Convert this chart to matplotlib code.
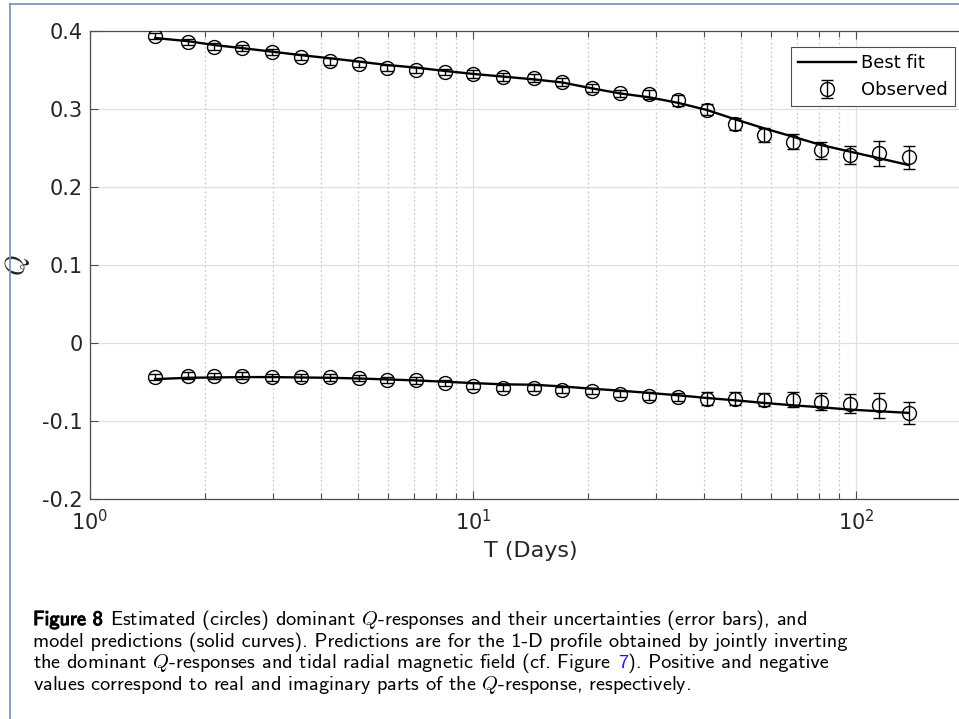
import matplotlib
matplotlib.use("Agg")
import matplotlib.pyplot as plt
import matplotlib.ticker as mticker
from matplotlib.lines import Line2D
import matplotlib.patheffects as pe

# Periods (days) and Q-responses
T_days = [1.48, 1.80, 2.11, 2.50, 2.99, 3.56, 4.24, 5.05, 5.97, 7.11, 8.47,
          10.0, 12.0, 14.4, 17.1, 20.4, 24.2, 28.8, 34.2, 40.8, 48.3, 57.5,
          68.4, 81.0, 96.5, 115.0, 137.0]

# real part (positive)
q_real_obs = [0.394, 0.386, 0.380, 0.378, 0.373, 0.367, 0.361, 0.358, 0.353,
              0.350, 0.347, 0.345, 0.341, 0.340, 0.335, 0.327, 0.320, 0.319,
              0.311, 0.299, 0.281, 0.267, 0.258, 0.247, 0.241, 0.243, 0.238]
q_real_err = [0.004, 0.004, 0.004, 0.004, 0.004, 0.004, 0.004, 0.004, 0.004,
              0.004, 0.004, 0.005, 0.005, 0.005, 0.005, 0.005, 0.005, 0.006,
              0.007, 0.007, 0.008, 0.009, 0.0095, 0.011, 0.012, 0.016, 0.015]
q_real_fit = [0.391, 0.387, 0.382, 0.378, 0.3735, 0.369, 0.365, 0.3607, 0.3564,
              0.353, 0.3487, 0.345, 0.3415, 0.338, 0.334, 0.3265, 0.320, 0.315,
              0.308, 0.2987, 0.2868, 0.2752, 0.2645, 0.2538, 0.2453, 0.2368, 0.2282]

# imaginary part (negative)
q_imag_obs = [-0.0437, -0.0417, -0.042, -0.0417, -0.0442, -0.0442, -0.0442,
              -0.045, -0.047, -0.048, -0.0513, -0.0548, -0.0577, -0.0577,
              -0.0607, -0.062, -0.065, -0.0675, -0.069, -0.0713, -0.0713,
              -0.0726, -0.0726, -0.0755, -0.0777, -0.080, -0.0896]
q_imag_err = [0.004, 0.004, 0.004, 0.004, 0.004, 0.004, 0.004, 0.004, 0.004,
              0.004, 0.004, 0.004, 0.004, 0.004, 0.004, 0.004, 0.004, 0.005,
              0.005, 0.008, 0.008, 0.008, 0.010, 0.011, 0.012, 0.016, 0.0145]
q_imag_fit = [-0.0463, -0.0446, -0.0442, -0.0437, -0.0437, -0.0442, -0.0446,
              -0.0455, -0.0467, -0.048, -0.0497, -0.0514, -0.053, -0.0535,
              -0.0557, -0.0586, -0.0611, -0.064, -0.067, -0.0705, -0.0735,
              -0.0768, -0.0799, -0.0824, -0.0854, -0.0875, -0.0896]

y_ticks = [-0.2, -0.1, 0.0, 0.1, 0.2, 0.3, 0.4]
y_tick_labels = ["-0.2", "-0.1", "0", "0.1", "0.2", "0.3", "0.4"]

# caption pieces: (text, style, space after)
caption_lines = [
    [("Figure 8", "bold", True),
     ("Estimated (circles) dominant $Q$-responses and their uncertainties (error bars), and", "plain", False)],
    [("model predictions (solid curves). Predictions are for the 1-D profile obtained by jointly inverting", "plain", False)],
    [("the dominant $Q$-responses and tidal radial magnetic field (cf. Figure", "plain", True),
     ("7", "link", False),
     ("). Positive and negative", "plain", False)],
    [("values correspond to real and imaginary parts of the $Q$-response, respectively.", "plain", False)],
]

plt.rcParams["font.family"] = ["DejaVu Sans"]
plt.rcParams["mathtext.fontset"] = "dejavusans"

W, H = 959, 719
fig = plt.figure(figsize=(W / 100, H / 100), dpi=100)
ax = fig.add_axes([90 / W, 1 - 499 / H, (971.5 - 90) / W, (499 - 31) / H])

ax.errorbar(T_days, q_real_obs, yerr=q_real_err, fmt="o", color="black", mfc="none",
            ms=10, mew=1.0, elinewidth=1.0, capsize=4.5, capthick=1.0, zorder=3)
obs = ax.errorbar(T_days, q_imag_obs, yerr=q_imag_err, fmt="o", color="black", mfc="none",
                  ms=10, mew=1.0, elinewidth=1.0, capsize=4.5, capthick=1.0, zorder=3)
fit, = ax.plot(T_days, q_real_fit, "-", color="black", lw=1.7, zorder=4)
ax.plot(T_days, q_imag_fit, "-", color="black", lw=1.7, zorder=4)

ax.set_xscale("log")
ax.set_xlim(1, 200)
ax.set_ylim(-0.2, 0.4)
ax.set_yticks(y_ticks)
ax.set_yticklabels(y_tick_labels)
ax.xaxis.set_minor_locator(mticker.LogLocator(base=10, subs=range(2, 10)))
ax.xaxis.set_minor_formatter(mticker.NullFormatter())

ax.set_axisbelow(True)
ax.grid(which="major", color="#e0e0e0", lw=0.9, ls="-")
ax.grid(which="minor", axis="x", color="#c8c8c8", lw=0.9, ls=(0, (1.5, 2)))

for s in ax.spines.values():
    s.set_color("#4d4d4d")
    s.set_linewidth(0.9)
ax.tick_params(which="both", direction="in", top=True, right=True,
               colors="#4d4d4d", labelcolor="#262626", labelsize=15)
ax.tick_params(which="major", length=6, width=0.8, pad=5)
ax.tick_params(axis="x", which="major", pad=7)
ax.tick_params(which="minor", length=4, width=0.8)

ax.set_xlabel("T (Days)", fontsize=16, color="#262626", labelpad=5)
ax.set_ylabel("$Q$", fontsize=19, color="#262626", math_fontfamily="cm")
ax.yaxis.set_label_coords(-58 / 881.5, 0.5)

leg = ax.legend([fit, obs], ["Best fit", "Observed"], loc="upper right",
                bbox_to_anchor=(955 / W, 1 - 47 / H), bbox_transform=fig.transFigure,
                fontsize=13, frameon=True, fancybox=False, framealpha=1,
                edgecolor="#4d4d4d", borderaxespad=0, handlelength=3.2,
                handletextpad=0.3, borderpad=0.4, labelspacing=0.5)
leg.get_frame().set_linewidth(0.8)

# page frame
fig.add_artist(Line2D([10 / W, 1], [1 - 4 / H, 1 - 4 / H], transform=fig.transFigure,
                      color="#7d97b8", lw=1.3))
fig.add_artist(Line2D([10 / W, 10 / W], [0, 1 - 4 / H], transform=fig.transFigure,
                      color="#7d97b8", lw=1.3))

# caption
renderer = fig.canvas.get_renderer()
cap_size = 14.6
probe = fig.text(0, 0, "x x", fontsize=cap_size, family="cmss10")
w_two = probe.get_window_extent(renderer).width
probe.set_text("xx")
space_w = w_two - probe.get_window_extent(renderer).width
probe.remove()

x0 = 33
baselines = [625, 646.5, 668, 689.5]
for line, yb in zip(caption_lines, baselines):
    x = x0
    for txt, style, gap in line:
        color = "#1a1aff" if style == "link" else "black"
        t = fig.text(x / W, 1 - yb / H, txt, fontsize=cap_size, family="cmss10",
                     math_fontfamily="cm", color=color, va="baseline", ha="left")
        if style == "bold":
            t.set_path_effects([pe.withStroke(linewidth=0.8, foreground="black")])
        x += t.get_window_extent(renderer).width + (space_w if gap else 0)

fig.savefig("out.png", dpi=100)
